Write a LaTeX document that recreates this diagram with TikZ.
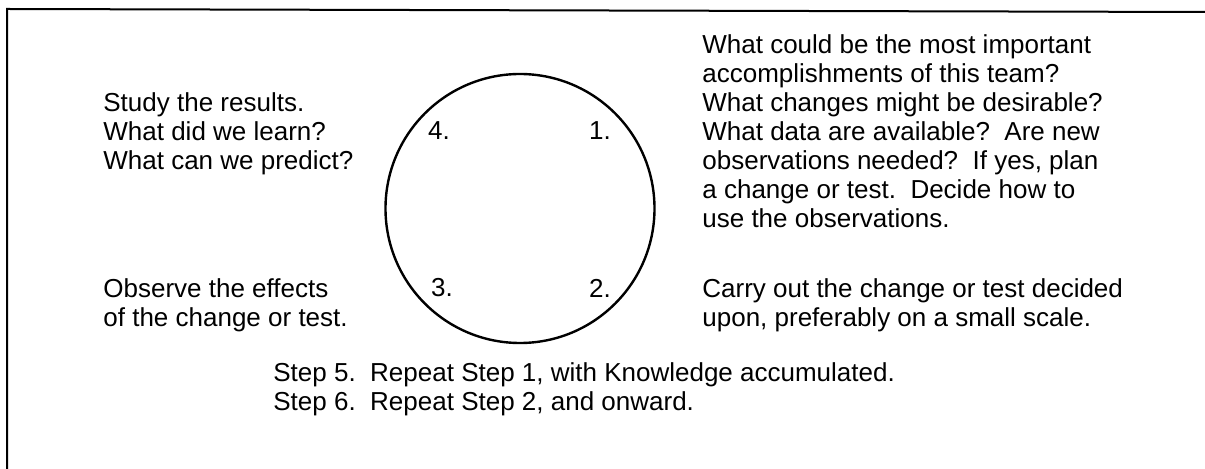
\documentclass[tikz,border=0pt]{standalone}
\usepackage{fontspec}
\setmainfont{Liberation Sans}
\begin{document}
\begin{tikzpicture}[x=0.5pt,y=-0.5pt,
  txt/.style={anchor=north west, inner sep=0pt, align=left, font=\fontsize{13}{14.5}\selectfont},
  num/.style={inner sep=0pt, font=\fontsize{13}{14.5}\selectfont},
  frameline/.style={line width=1pt},
  cycle/.style={circle, draw, line width=1.2pt, minimum size=134.5pt, inner sep=0pt}]
\useasboundingbox (0,0) rectangle (1205,469);
\coordinate (ftop) at (1205,12);
\coordinate (fcorner) at (7,9);
\coordinate (fbot) at (7,469);
\draw[frameline] (ftop) -- (fcorner) -- (fbot);
\node[cycle] (cyc) at (520,208.5) {};
\node[num] (n4) at (439,131) {4.};
\node[num] (n1) at (600,131) {1.};
\node[num] (n3) at (442,288) {3.};
\node[num] (n2) at (600,288) {2.};
\node[txt] (study) at (103,92.4) {Study the results.\\What did we learn?\\What can we predict?};
\node[txt] (observe) at (103,278.4) {Observe the effects\\of the change or test.};
\node[txt] (plan) at (702,34.4) {What could be the most important\\accomplishments of this team?\\What changes might be desirable?\\What data are available?\ \ Are new\\observations needed?\ \ If yes, plan\\a change or test.\ \ Decide how to\\use the observations.};
\node[txt] (carry) at (702,278.4) {Carry out the change or test decided\\upon, preferably on a small scale.};
\node[txt] (steps) at (273,362.4) {Step 5.\ \ Repeat Step 1, with Knowledge accumulated.\\Step 6.\ \ Repeat Step 2, and onward.};
\end{tikzpicture}
\end{document}
